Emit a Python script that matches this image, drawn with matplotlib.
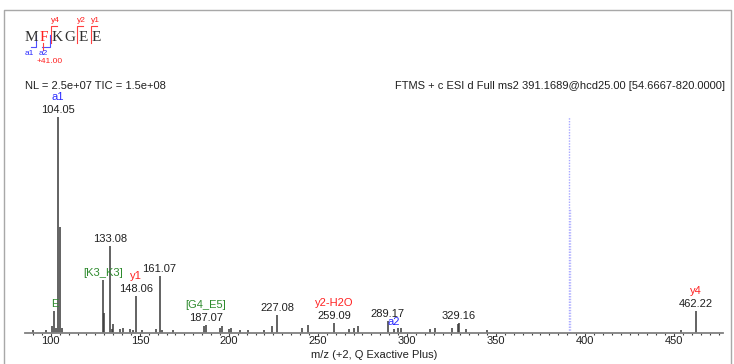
#annotated ms2 spectrum for MF(+41)KGEE
#peaks are read off the reference picture
import matplotlib
matplotlib.use('Agg')
import matplotlib.pyplot as plt
from matplotlib.ticker import MultipleLocator
import numpy as np

plt.rcParams['font.family']=['Liberation Sans','DejaVu Sans']

# In[1]:

#centroid peaks, m/z and relative intensity in %
peak_mz=[90.0,97.5,100.7,102.06,103.0,104.05,105.06,106.0,
         129.10,130.09,134.08,135.05,139.0,140.8,144.6,145.9,148.06,151.2,
         159.3,161.07,162.6,168.6,185.9,187.07,195.2,196.1,199.9,201.2,206.4,211.0,
         219.6,224.3,227.08,241.1,244.5,259.09,267.3,270.1,272.4,
         289.17,292.6,294.9,296.8,313.2,315.5,325.4,328.5,329.16,333.0,345.1,
         453.7,462.22,133.08]
peak_int=[1.2,1.0,3.0,10.0,2.0,100.0,49.0,2.3,
          24.5,9.0,1.5,4.0,1.4,1.9,1.4,1.0,17.0,1.0,
          1.4,26.0,1.0,1.0,2.8,3.5,2.3,3.2,1.4,2.3,1.0,1.0,
          1.0,3.2,8.0,2.0,3.7,4.5,1.4,2.3,2.8,
          5.5,1.4,2.0,2.0,1.4,2.0,2.3,4.0,4.5,1.4,1.0,
          1.0,10.0,40.0]

#precursor
precursor_mz=391.17

#annotations
label_mz=[102.06,104.05,129.10,133.08,148.06,161.07,187.07,227.08,259.09,289.17,292.6,329.16,462.22]
label_num=['','104.05','','133.08','148.06','161.07','187.07','227.08','259.09','289.17','','329.16','462.22']
label_ion=['E','a1','[K3_K3]','','y1','','[G4_E5]','','y2-H2O','','a2','','y4']
label_col=['g','b','g','','r','','g','','r','','b','','r']

colours={'g':'#2e8b2e','b':'#2a2aff','r':'#ff2020'}

#sequence header
sequence=['M','F','K','G','E','E']
seq_col=['#303030','#ff2020','#303030','#303030','#303030','#303030']

header_left='NL = 2.5e+07 TIC = 1.5e+08'
header_right='FTMS + c ESI d Full ms2 391.1689@hcd25.00 [54.6667-820.0000]'


# In[2]:

W,H=734,364
fig=plt.figure(figsize=(W/100,H/100),dpi=100)

#overlay in pixel coords for the header and frame
ov=fig.add_axes([0,0,1,1])
ov.set_xlim(0,W)
ov.set_ylim(H,0)
ov.axis('off')

#grey frame
ov.plot([4,4,731,731],[370,10,10,370],color='#a8a8a8',lw=1)

#sequence letters
for i,aa in enumerate(sequence):
    ov.text(31+13.1*i,37.5,aa,family=['Liberation Serif','DejaVu Serif'],
            fontsize=11,color=seq_col[i],ha='center',va='center')

#y ion brackets above
for xv,lab in [(50.7,'y4'),(77.3,'y2'),(90.7,'y1')]:
    ov.plot([xv,xv,xv+6],[43,26,26],color='#ff4040',lw=0.8)
    ov.text(xv+4.5,20.5,lab,color='#ff2020',fontsize=6,ha='center',va='center')

#a ion brackets below
for xl,xv,lab,xt in [(30.7,35.7,'a1',29.3),(41.7,50,'a2',43)]:
    ov.plot([xl,xv,xv],[46.7,46.7,35],color='#5050ff',lw=0.8)
    ov.text(xt,53.3,lab,color='#2a2aff',fontsize=6,ha='center',va='center')
ov.plot([43.3,43.3],[43,50],color='#ff4040',lw=0.8)
ov.text(50,61.7,'+41.00',color='#ff2020',fontsize=6,ha='center',va='center')

ov.text(25,86,header_left,fontsize=8,ha='left',va='center',color='#202020')
ov.text(725,86,header_right,fontsize=8,ha='right',va='center',color='#202020')


# In[3]:

#spectrum axes
ax=fig.add_axes([25/W,(H-332.5)/H,(723-25)/W,(332.5-117)/H])
ax.set_xlim(85.5,477.5)
ax.set_ylim(0,100)

ax.vlines(peak_mz,0,peak_int,color='#383838',lw=1.1)

#precursor as dotted blue line
ax.vlines(precursor_mz,0,100,color='#a8a8ff',lw=1.0,linestyles=(0,(1,1)))
ax.vlines(precursor_mz+0.3,0,58,color='#b8b8ff',lw=1.0,linestyles=(0,(1,1)))

#labels over the peaks
for mz,num,ion,c in zip(label_mz,label_num,label_ion,label_col):
    top=peak_int[peak_mz.index(mz)]
    off=2
    if num:
        ax.annotate(num,(mz,top),xytext=(0,off),textcoords='offset pixels',
                    ha='center',va='bottom',fontsize=8,color='#202020',annotation_clip=False)
        off=15
    if ion:
        ax.annotate(ion,(mz,top),xytext=(0,off),textcoords='offset pixels',
                    ha='center',va='bottom',fontsize=8,color=colours[c],annotation_clip=False)

for s in ['top','right','left']:
    ax.spines[s].set_visible(False)
ax.spines['bottom'].set_color('#808080')
ax.spines['bottom'].set_linewidth(1.3)
ax.set_yticks([])
ax.set_xticks(np.arange(100,451,50))
ax.xaxis.set_minor_locator(MultipleLocator(5))
ax.tick_params(axis='x',which='major',length=2,width=0.8,pad=0.5,labelsize=8,
               color='#404040',labelcolor='#202020')
ax.tick_params(axis='x',which='minor',length=1.5,width=0.8,color='#404040')
ax.set_xlabel('m/z (+2, Q Exactive Plus)',fontsize=8,color='#202020',labelpad=3)
ax.patch.set_alpha(0)

fig.savefig('out.png',dpi=100)
